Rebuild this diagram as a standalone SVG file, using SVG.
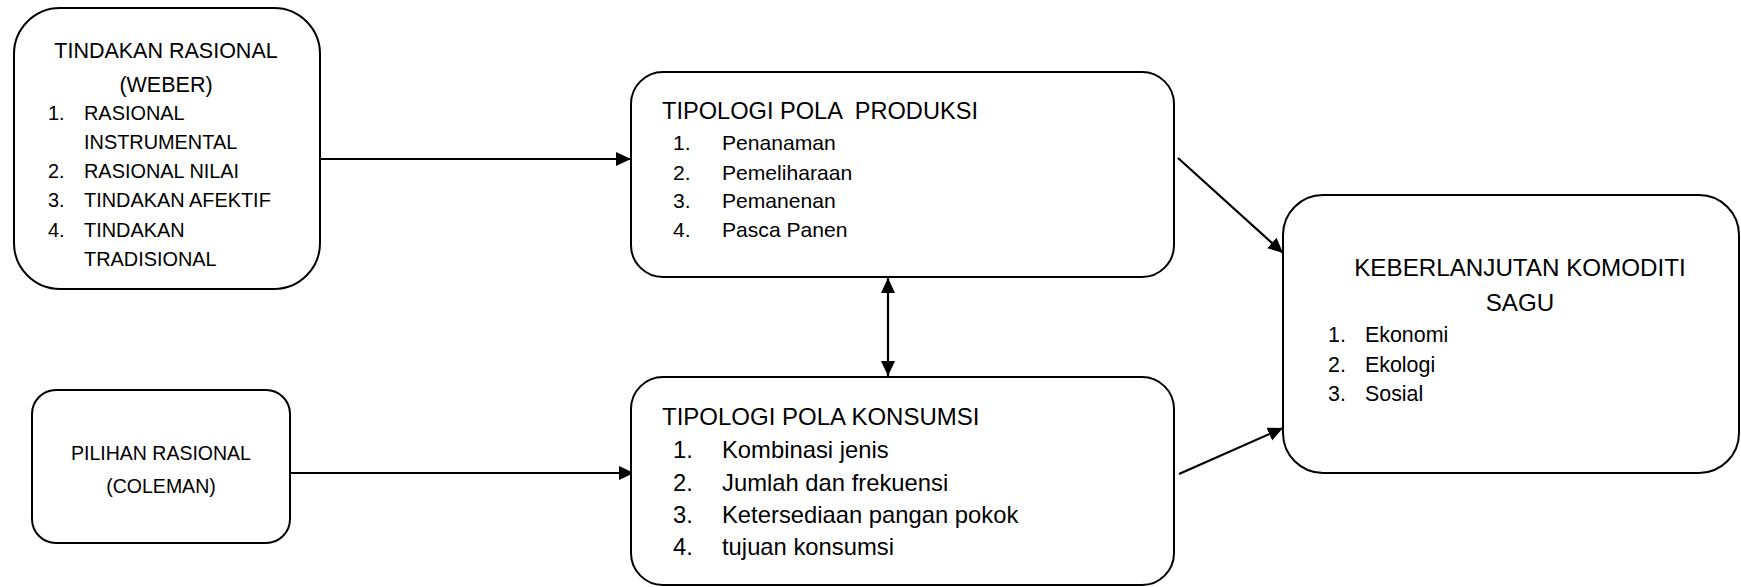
<svg xmlns="http://www.w3.org/2000/svg" width="1741" height="587" viewBox="0 0 1741 587">
<style>
.box{fill:#fff;stroke:#000;stroke-width:2}
.t{font-family:"Liberation Sans",Arial,sans-serif;fill:#000}
.c{text-anchor:middle}
.ln{stroke:#000;stroke-width:2.2;fill:none}
</style>
<defs>
<marker id="ah" markerUnits="userSpaceOnUse" markerWidth="16" markerHeight="15" refX="15" refY="7" orient="auto-start-reverse" viewBox="0 0 16 15">
<path d="M0,0 L15,7 L0,14 z" fill="#000"/>
</marker>
</defs>
<rect width="1741" height="587" fill="#fff"/>
<g id="connectors">
<line class="ln" x1="320" y1="159" x2="631" y2="159" marker-end="url(#ah)"/>
<line class="ln" x1="290" y1="473" x2="634" y2="473" marker-end="url(#ah)"/>
<line class="ln" x1="888" y1="278" x2="888" y2="376" marker-start="url(#ah)" marker-end="url(#ah)"/>
<line class="ln" x1="1178" y1="158" x2="1283" y2="253" marker-end="url(#ah)"/>
<line class="ln" x1="1179" y1="474" x2="1283" y2="428" marker-end="url(#ah)"/>
</g>
<g id="tindakan-rasional">
<rect class="box" x="14" y="8" width="306" height="281" rx="46"/>
<text class="t c" x="166" y="58" font-size="21.5">TINDAKAN RASIONAL</text>
<text class="t c" x="166" y="92" font-size="21.5">(WEBER)</text>
<g class="t" font-size="19.9">
<text x="48" y="120">1.</text><text x="84" y="120">RASIONAL</text>
<text x="84" y="149">INSTRUMENTAL</text>
<text x="48" y="178">2.</text><text x="84" y="178">RASIONAL NILAI</text>
<text x="48" y="207">3.</text><text x="84" y="207">TINDAKAN AFEKTIF</text>
<text x="48" y="237">4.</text><text x="84" y="237">TINDAKAN</text>
<text x="84" y="266">TRADISIONAL</text>
</g>
</g>
<g id="pilihan-rasional">
<rect class="box" x="32" y="390" width="258" height="153" rx="24"/>
<text class="t c" x="161" y="460" font-size="19.5">PILIHAN RASIONAL</text>
<text class="t c" x="161" y="493" font-size="19.5">(COLEMAN)</text>
</g>
<g id="pola-produksi">
<rect class="box" x="631" y="72" width="543" height="205" rx="32"/>
<text class="t" x="662" y="119" font-size="23.6" style="white-space:pre">TIPOLOGI POLA  PRODUKSI</text>
<g class="t" font-size="21.1">
<text x="673" y="150">1.</text><text x="722" y="150">Penanaman</text>
<text x="673" y="180">2.</text><text x="722" y="180">Pemeliharaan</text>
<text x="673" y="208">3.</text><text x="722" y="208">Pemanenan</text>
<text x="673" y="237">4.</text><text x="722" y="237">Pasca Panen</text>
</g>
</g>
<g id="pola-konsumsi">
<rect class="box" x="631" y="377" width="543" height="208" rx="32"/>
<text class="t" x="662" y="425" font-size="24">TIPOLOGI POLA KONSUMSI</text>
<g class="t" font-size="23.8">
<text x="673" y="458">1.</text><text x="722" y="458">Kombinasi jenis</text>
<text x="673" y="491">2.</text><text x="722" y="491">Jumlah dan frekuensi</text>
<text x="673" y="523">3.</text><text x="722" y="523">Ketersediaan pangan pokok</text>
<text x="673" y="555">4.</text><text x="722" y="555">tujuan konsumsi</text>
</g>
</g>
<g id="keberlanjutan">
<rect class="box" x="1283" y="195" width="456" height="278" rx="40"/>
<text class="t c" x="1520" y="276" font-size="24.2">KEBERLANJUTAN KOMODITI</text>
<text class="t c" x="1520" y="311" font-size="24.2">SAGU</text>
<g class="t" font-size="21.4">
<text x="1328" y="342">1.</text><text x="1365" y="342">Ekonomi</text>
<text x="1328" y="372">2.</text><text x="1365" y="372">Ekologi</text>
<text x="1328" y="401">3.</text><text x="1365" y="401">Sosial</text>
</g>
</g>
</svg>
